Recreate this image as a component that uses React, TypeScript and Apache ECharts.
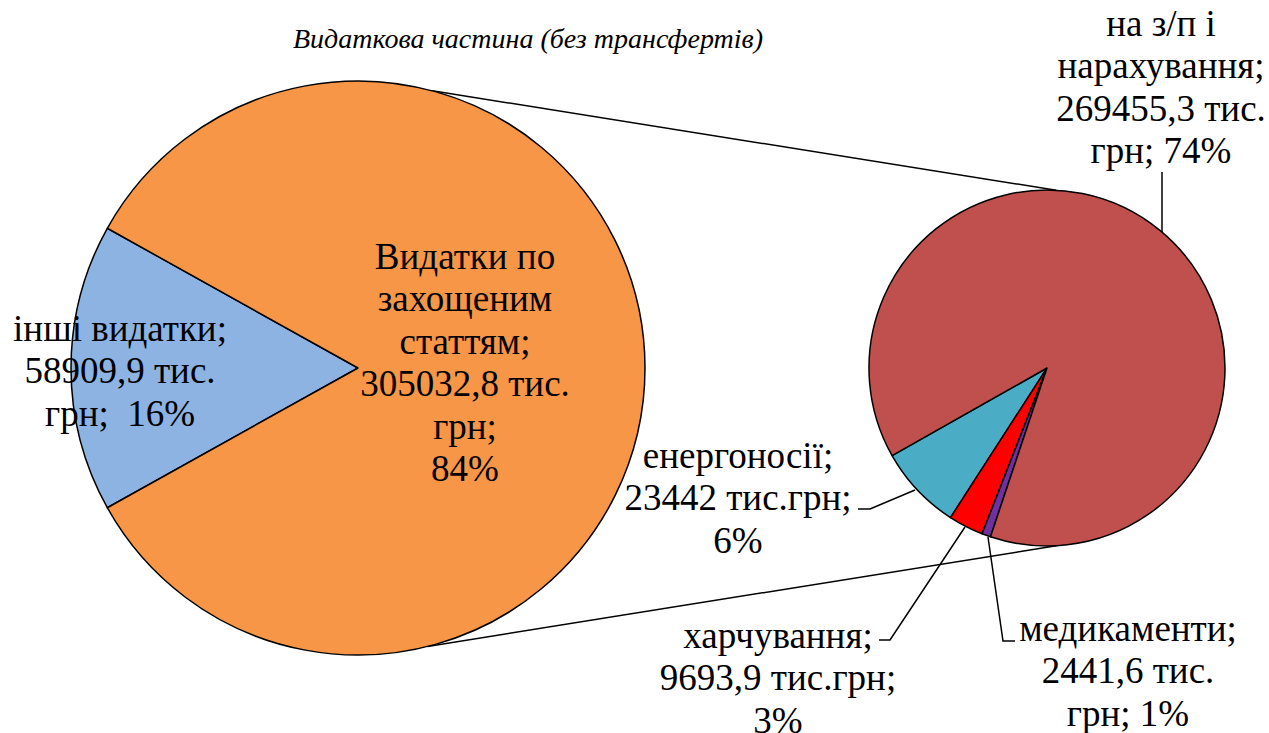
import React, { useEffect, useRef } from "react";
import * as echarts from "echarts";

const TITLE = "Видаткова частина (без трансфертів)";
const MAIN_CATEGORIES = ["інші видатки", "Видатки по захощеним статтям"];
const MAIN_VALUES = [58909.9, 305032.8];
const MAIN_LABELS = [
  "інші видатки;\n58909,9 тис.\nгрн;  16%",
  "Видатки по\nзахощеним\nстаттям;\n305032,8 тис.\nгрн;\n84%",
];
const SUB_CATEGORIES = ["енергоносії", "харчування", "медикаменти", "на з/п і нарахування"];
const SUB_VALUES = [23442, 9693.9, 2441.6, 269455.3];
const SUB_LABELS = [
  "енергоносії;\n23442 тис.грн;\n6%",
  "харчування;\n9693,9 тис.грн;\n3%",
  "медикаменти;\n2441,6 тис.\nгрн; 1%",
  "на з/п і\nнарахування;\n269455,3 тис.\nгрн; 74%",
];

const MAIN_COLORS = ["#8DB3E2", "#F79646"];
const SUB_COLORS = ["#4BACC6", "#FF0000", "#7030A0", "#C0504D"];

// layout
const MAIN_C = [358, 368];
const MAIN_R = 287;
const SUB_C = [1047, 368];
const SUB_R = 178;
const FONT = "Liberation Serif";
const FS = 37;
const LH = 42.5;

const MAIN_LABEL_POS = [
  [120, 307],
  [465, 235],
];
const SUB_LABEL_POS = [
  [738, 434],
  [778, 614],
  [1128, 607],
  [1161, 2],
];
const SUB_LEADERS = [
  [[915, 490], [870, 509], [858, 509]],
  [[965, 527], [890, 640], [879, 640]],
  [[988, 537], [1003, 641], [1015, 641]],
  [[1162, 232], [1162, 200], [1162, 172]],
];

function polar(c: number[], r: number, deg: number) {
  const a = (deg * Math.PI) / 180;
  return [c[0] + r * Math.cos(a), c[1] - r * Math.sin(a)];
}

export default function App() {
  const ref = useRef<HTMLDivElement>(null);
  useEffect(() => {
    document.body.style.margin = "0";
    if (!ref.current) return;
    const chart = echarts.init(ref.current, undefined, { renderer: "svg" });
    const mainTotal = MAIN_VALUES.reduce((a, b) => a + b, 0);
    const mainStart = 180 + (MAIN_VALUES[0] / mainTotal) * 180;

    const t1 = polar(MAIN_C, MAIN_R, 75);
    const t2 = polar(SUB_C, SUB_R, 87);
    const b1 = polar(MAIN_C, MAIN_R, -76);
    const b2 = polar(SUB_C, SUB_R, -87);

    const labelStyle = {
      fontFamily: FONT,
      fontSize: FS,
      lineHeight: LH,
      color: "#000",
      align: "center" as const,
    };

    chart.setOption({
      animation: false,
      backgroundColor: "#fff",
      textStyle: { fontFamily: FONT },
      title: {
        text: TITLE,
        left: 293,
        top: 24,
        padding: 0,
        textStyle: {
          fontFamily: FONT,
          fontStyle: "italic",
          fontWeight: "normal",
          fontSize: 28,
          lineHeight: 28,
          color: "#000",
        },
      },
      graphic: [
        {
          type: "line",
          z: 0,
          shape: { x1: t1[0], y1: t1[1], x2: t2[0], y2: t2[1] },
          style: { stroke: "#000", lineWidth: 1.5 },
        },
        {
          type: "line",
          z: 0,
          shape: { x1: b1[0], y1: b1[1], x2: b2[0], y2: b2[1] },
          style: { stroke: "#000", lineWidth: 1.5 },
        },
      ],
      series: [
        {
          type: "pie",
          center: MAIN_C,
          radius: MAIN_R,
          startAngle: mainStart,
          clockwise: true,
          avoidLabelOverlap: false,
          silent: true,
          itemStyle: { borderColor: "#000", borderWidth: 1.5 },
          label: {
            show: true,
            position: "inside",
            ...labelStyle,
            formatter: (p: any) => MAIN_LABELS[p.dataIndex],
          },
          labelLine: { show: false },
          labelLayout: (p: any) => ({
            x: MAIN_LABEL_POS[p.dataIndex][0],
            y: MAIN_LABEL_POS[p.dataIndex][1],
            align: "center",
            verticalAlign: "top",
          }),
          data: MAIN_CATEGORIES.map((name, i) => ({
            name,
            value: MAIN_VALUES[i],
            itemStyle: { color: MAIN_COLORS[i] },
          })),
        },
        {
          type: "pie",
          center: SUB_C,
          radius: SUB_R,
          startAngle: 209.5,
          clockwise: false,
          avoidLabelOverlap: false,
          silent: true,
          itemStyle: { borderColor: "#000", borderWidth: 1.5 },
          label: {
            show: true,
            position: "outside",
            ...labelStyle,
            formatter: (p: any) => SUB_LABELS[p.dataIndex],
          },
          labelLine: { show: true, lineStyle: { color: "#000", width: 1.5 } },
          labelLayout: (p: any) => ({
            x: SUB_LABEL_POS[p.dataIndex][0],
            y: SUB_LABEL_POS[p.dataIndex][1],
            align: "center",
            verticalAlign: "top",
            labelLinePoints: SUB_LEADERS[p.dataIndex],
          }),
          data: SUB_CATEGORIES.map((name, i) => ({
            name,
            value: SUB_VALUES[i],
            itemStyle: { color: SUB_COLORS[i] },
          })),
        },
      ],
    });
    return () => chart.dispose();
  }, []);
  return <div ref={ref} style={{ width: 1269, height: 733 }} />;
}
